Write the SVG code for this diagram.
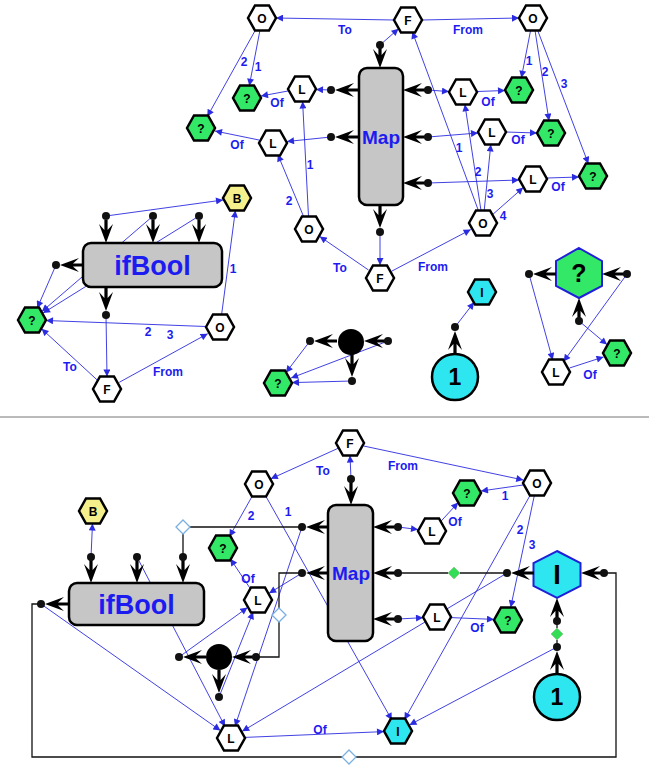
<svg xmlns="http://www.w3.org/2000/svg" xmlns:xlink="http://www.w3.org/1999/xlink" width="649" height="773" viewBox="0 0 649 773">
<style>
.c{stroke:#2b2be0;stroke-width:0.9;fill:none;marker-end:url(#ar)}
.k{stroke:#111;stroke-width:1.3;fill:none}
.lb{font-family:"Liberation Sans",Arial,sans-serif;font-weight:bold;font-size:12px;fill:#1c1cf0;text-anchor:middle}
.ht{font-family:"Liberation Sans",Arial,sans-serif;font-weight:bold;font-size:12px;fill:#000;text-anchor:middle}
.big{font-family:"Liberation Sans",Arial,sans-serif;font-weight:bold;fill:#000;text-anchor:middle}
.w{fill:#fff;stroke:#000;stroke-width:2.5}
.g{fill:#33e866;stroke:#000;stroke-width:2.5}
.y{fill:#f5f08c;stroke:#000;stroke-width:2.5}
.cy{fill:#2de6ef;stroke:#000;stroke-width:2.5}
.box{fill:#c6c6c6;stroke:#000;stroke-width:2.5}
.bt{font-family:"Liberation Sans",Arial,sans-serif;font-weight:bold;fill:#1c1cf0;text-anchor:middle}
.pa{fill:#000}
.dot{fill:#111}
.hd{fill:#fff;stroke:#7ab0e0;stroke-width:1.3}
.gd{fill:#33dd55;stroke:#8fcf8f;stroke-width:1}
</style>
<defs>
<marker id="ar" viewBox="0 0 10 10" refX="10" refY="5" markerWidth="8" markerHeight="7" markerUnits="userSpaceOnUse" orient="auto"><path d="M0,0 L10,5 L0,10 z" fill="#2b2be0"/></marker>
<polygon id="hx" points="-14,0 -7,-12.5 7,-12.5 14,0 7,12.5 -7,12.5"/>
<path id="pa" d="M0,0 L-19,-7 L-13,-1.6 L-23,-1.6 L-23,1.6 L-13,1.6 L-19,7 Z"/>
</defs>
<rect width="649" height="773" fill="#fff"/>
<line x1="0" y1="417" x2="649" y2="417" stroke="#777" stroke-width="1"/>

<g id="connectors">
<line class="c" x1="394" y1="20" x2="276" y2="18"/>
<line class="c" x1="422" y1="20" x2="519" y2="18"/>
<line class="c" x1="260" y1="30" x2="249.3" y2="85.7"/>
<line class="c" x1="256" y1="29" x2="207.3" y2="116.6"/>
<line class="c" x1="288" y1="91" x2="261" y2="96"/>
<line class="c" x1="259" y1="140" x2="215" y2="131"/>
<line class="c" x1="331" y1="90" x2="316" y2="89.5"/>
<line class="c" x1="331" y1="137" x2="287" y2="141.5"/>
<line class="c" x1="380" y1="45" x2="398.5" y2="28.8"/>
<line class="c" x1="380" y1="232" x2="380" y2="265"/>
<line class="c" x1="368.5" y1="270" x2="319.7" y2="236.4"/>
<line class="c" x1="392" y1="271" x2="470.7" y2="229.6"/>
<line class="c" x1="304" y1="217.5" x2="277.8" y2="154.5"/>
<line class="c" x1="308.5" y1="216.5" x2="302.6" y2="101.5"/>
<line class="c" x1="478.7" y1="211.3" x2="412.3" y2="31.7"/>
<line class="c" x1="481" y1="210.6" x2="464.9" y2="104.4"/>
<line class="c" x1="484.2" y1="210.6" x2="490.8" y2="144.4"/>
<line class="c" x1="492.8" y1="214.4" x2="523.2" y2="187.6"/>
<line class="c" x1="428" y1="90" x2="449" y2="91.6"/>
<line class="c" x1="428" y1="137" x2="478" y2="133"/>
<line class="c" x1="428" y1="183" x2="519" y2="180"/>
<line class="c" x1="477" y1="91.5" x2="505" y2="90.5"/>
<line class="c" x1="506" y1="132" x2="537" y2="133"/>
<line class="c" x1="547" y1="178" x2="579" y2="177"/>
<line class="c" x1="530.6" y1="30.3" x2="521.4" y2="77.7"/>
<line class="c" x1="535" y1="30.3" x2="549" y2="120.7"/>
<line class="c" x1="537.4" y1="29.7" x2="588.4" y2="163.8"/>
<line class="c" x1="106" y1="216" x2="223" y2="200"/>
<line class="c" x1="153" y1="216" x2="41.9" y2="311.5"/>
<line class="c" x1="199" y1="216" x2="43" y2="313.1"/>
<line class="c" x1="56" y1="265" x2="37.2" y2="308.1"/>
<line class="c" x1="106" y1="315" x2="107" y2="376.5"/>
<line class="c" x1="97.4" y1="380.2" x2="41.6" y2="328.8"/>
<line class="c" x1="119.3" y1="382.3" x2="207.7" y2="333.7"/>
<line class="c" x1="221.6" y1="314.6" x2="235.4" y2="210.4"/>
<line class="c" x1="206" y1="326.5" x2="46" y2="320.5"/>
<line class="c" x1="310" y1="341" x2="285.9" y2="372.7"/>
<line class="c" x1="388" y1="341" x2="291.1" y2="378"/>
<line class="c" x1="352" y1="381" x2="292" y2="382.6"/>
<line class="c" x1="455" y1="327" x2="474.1" y2="302.3"/>
<line class="c" x1="529" y1="274" x2="552.7" y2="360"/>
<line class="c" x1="627" y1="274" x2="563.6" y2="361.5"/>
<line class="c" x1="579" y1="321" x2="607" y2="344.6"/>
<line class="c" x1="569.5" y1="368" x2="603.5" y2="357"/>
<line class="c" x1="351" y1="479" x2="350" y2="455.5"/>
<line class="c" x1="363.7" y1="446" x2="523.3" y2="480"/>
<line class="c" x1="338.1" y1="448.3" x2="270.8" y2="478.8"/>
<line class="c" x1="252.9" y1="494.9" x2="229.4" y2="536.7"/>
<line class="c" x1="265.1" y1="494.9" x2="391.9" y2="720.1"/>
<line class="c" x1="250.7" y1="589.2" x2="230.3" y2="558.8"/>
<line class="c" x1="398" y1="527" x2="418" y2="529.5"/>
<line class="c" x1="440.8" y1="521.4" x2="458.2" y2="502.6"/>
<line class="c" x1="523" y1="485" x2="481" y2="491"/>
<line class="c" x1="530.9" y1="493.9" x2="404.4" y2="719.7"/>
<line class="c" x1="534.4" y1="495.2" x2="510.7" y2="607.3"/>
<line class="c" x1="398" y1="619" x2="423" y2="617.7"/>
<line class="c" x1="451" y1="617.6" x2="494" y2="619.4"/>
<line class="c" x1="245" y1="737.4" x2="384" y2="731.6"/>
<line class="c" x1="557" y1="647" x2="409.5" y2="724.9"/>
<line class="c" x1="41" y1="604" x2="220.4" y2="730.5"/>
<line class="c" x1="137" y1="557" x2="225" y2="726.5"/>
<line class="c" x1="302" y1="527" x2="235" y2="726.2"/>
<line class="c" x1="507" y1="573" x2="242.2" y2="731.3"/>
<line class="c" x1="179" y1="657" x2="247.5" y2="607.6"/>
<line class="c" x1="219" y1="697" x2="253.2" y2="612.1"/>
<line class="c" x1="302" y1="573" x2="269.1" y2="593.2"/>
<line class="c" x1="91" y1="557" x2="92.5" y2="523.5"/>
<polyline class="k" points="41,604 32,604 32,757 616,757 616,573 604,573"/>
<polyline class="k" points="302,527 183,527 183,557"/>
<polyline class="k" points="302,573 279,573 279,657 256,657"/>
<line class="k" x1="507" y1="573" x2="398" y2="573"/>
<line class="k" x1="557" y1="647" x2="557" y2="621"/>
<polygon class="hd" points="349,750 356,757 349,764 342,757"/>
<polygon class="hd" points="183,520 190,527 183,534 176,527"/>
<polygon class="hd" points="279,608 286,615 279,622 272,615"/>
<polygon class="gd" points="454,567 460,573 454,579 448,573"/>
<polygon class="gd" points="557,628 563,634 557,640 551,634"/>
<text class="lb" x="345" y="34">To</text>
<text class="lb" x="468" y="34">From</text>
<text class="lb" x="258" y="71">1</text>
<text class="lb" x="244" y="66">2</text>
<text class="lb" x="277" y="107">Of</text>
<text class="lb" x="237" y="149">Of</text>
<text class="lb" x="340" y="272">To</text>
<text class="lb" x="433" y="271">From</text>
<text class="lb" x="289" y="205">2</text>
<text class="lb" x="310" y="169">1</text>
<text class="lb" x="459" y="152">1</text>
<text class="lb" x="478" y="176">2</text>
<text class="lb" x="490" y="198">3</text>
<text class="lb" x="503" y="220">4</text>
<text class="lb" x="488" y="106">Of</text>
<text class="lb" x="518" y="144">Of</text>
<text class="lb" x="558" y="191">Of</text>
<text class="lb" x="529" y="65">1</text>
<text class="lb" x="545" y="76">2</text>
<text class="lb" x="564" y="88">3</text>
<text class="lb" x="70" y="371">To</text>
<text class="lb" x="168" y="376">From</text>
<text class="lb" x="233" y="273">1</text>
<text class="lb" x="148" y="336">2</text>
<text class="lb" x="170" y="339">3</text>
<text class="lb" x="590" y="379">Of</text>
<text class="lb" x="403" y="470">From</text>
<text class="lb" x="323" y="475">To</text>
<text class="lb" x="251" y="520">2</text>
<text class="lb" x="288" y="516">1</text>
<text class="lb" x="248" y="583">Of</text>
<text class="lb" x="455" y="526">Of</text>
<text class="lb" x="505" y="500">1</text>
<text class="lb" x="520" y="534">2</text>
<text class="lb" x="532" y="549">3</text>
<text class="lb" x="477" y="632">Of</text>
<text class="lb" x="320" y="734">Of</text>
</g>

<g id="t_O1"><use href="#hx" x="262" y="18" class="w"/><text class="ht" x="262" y="22.5">O</text></g>
<g id="t_F1"><use href="#hx" x="408" y="20" class="w"/><text class="ht" x="408" y="24.5">F</text></g>
<g id="t_O2"><use href="#hx" x="533" y="18" class="w"/><text class="ht" x="533" y="22.5">O</text></g>
<g id="t_G1"><use href="#hx" x="247" y="98" class="g"/><text class="ht" x="247" y="102.5">?</text></g>
<g id="t_G2"><use href="#hx" x="201" y="128" class="g"/><text class="ht" x="201" y="132.5">?</text></g>
<g id="t_L1"><use href="#hx" x="302" y="89" class="w"/><text class="ht" x="302" y="93.5">L</text></g>
<g id="t_L2"><use href="#hx" x="273" y="143" class="w"/><text class="ht" x="273" y="147.5">L</text></g>
<g id="t_L3"><use href="#hx" x="463" y="92" class="w"/><text class="ht" x="463" y="96.5">L</text></g>
<g id="t_G3"><use href="#hx" x="519" y="90" class="g"/><text class="ht" x="519" y="94.5">?</text></g>
<g id="t_L4"><use href="#hx" x="492" y="132" class="w"/><text class="ht" x="492" y="136.5">L</text></g>
<g id="t_G4"><use href="#hx" x="551" y="133" class="g"/><text class="ht" x="551" y="137.5">?</text></g>
<g id="t_L5"><use href="#hx" x="533" y="179" class="w"/><text class="ht" x="533" y="183.5">L</text></g>
<g id="t_G5"><use href="#hx" x="593" y="176" class="g"/><text class="ht" x="593" y="180.5">?</text></g>
<g id="t_O3"><use href="#hx" x="309" y="229" class="w"/><text class="ht" x="309" y="233.5">O</text></g>
<g id="t_O4"><use href="#hx" x="483" y="223" class="w"/><text class="ht" x="483" y="227.5">O</text></g>
<g id="t_F2"><use href="#hx" x="380" y="278" class="w"/><text class="ht" x="380" y="282.5">F</text></g>
<g id="t_map">
<rect class="box" x="359" y="68" width="44" height="137" rx="8"/>
<text class="bt" x="381" y="144" style="font-size:19px">Map</text>
<use href="#pa" class="pa" transform="translate(380,68) rotate(90)"/><circle class="dot" cx="380" cy="45" r="4"/>
<use href="#pa" class="pa" transform="translate(335,90) rotate(180)"/><circle class="dot" cx="331" cy="90" r="4"/>
<use href="#pa" class="pa" transform="translate(335,137) rotate(180)"/><circle class="dot" cx="331" cy="137" r="4"/>
<use href="#pa" class="pa" transform="translate(403,90) rotate(180)"/><circle class="dot" cx="428" cy="90" r="4"/>
<use href="#pa" class="pa" transform="translate(403,137) rotate(180)"/><circle class="dot" cx="428" cy="137" r="4"/>
<use href="#pa" class="pa" transform="translate(403,183) rotate(180)"/><circle class="dot" cx="428" cy="183" r="4"/>
<use href="#pa" class="pa" transform="translate(380,228) rotate(90)"/><circle class="dot" cx="380" cy="232" r="4"/>
</g>
<g id="t_ifbool">
<rect class="box" x="83" y="243" width="139" height="44" rx="8"/>
<text class="bt" x="152.5" y="275" style="font-size:27px">ifBool</text>
<use href="#pa" class="pa" transform="translate(106,243) rotate(90)"/><circle class="dot" cx="106" cy="216" r="4"/>
<use href="#pa" class="pa" transform="translate(153,243) rotate(90)"/><circle class="dot" cx="153" cy="216" r="4"/>
<use href="#pa" class="pa" transform="translate(199,243) rotate(90)"/><circle class="dot" cx="199" cy="216" r="4"/>
<use href="#pa" class="pa" transform="translate(60,265) rotate(180)"/><circle class="dot" cx="56" cy="265" r="4"/>
<use href="#pa" class="pa" transform="translate(106,311) rotate(90)"/><circle class="dot" cx="106" cy="315" r="4"/>
</g>
<g id="t_B"><use href="#hx" x="237" y="198" class="y"/><text class="ht" x="237" y="202.5">B</text></g>
<g id="t_G6"><use href="#hx" x="32" y="320" class="g"/><text class="ht" x="32" y="324.5">?</text></g>
<g id="t_O5"><use href="#hx" x="220" y="327" class="w"/><text class="ht" x="220" y="331.5">O</text></g>
<g id="t_F3"><use href="#hx" x="107" y="389" class="w"/><text class="ht" x="107" y="393.5">F</text></g>
<g id="t_circ">
<circle cx="351" cy="342" r="13" fill="#000"/>
<use href="#pa" class="pa" transform="translate(314,341) rotate(180)"/><circle class="dot" cx="310" cy="341" r="4"/>
<use href="#pa" class="pa" transform="translate(364,341) rotate(180)"/><circle class="dot" cx="388" cy="341" r="4"/>
<use href="#pa" class="pa" transform="translate(352,377) rotate(90)"/><circle class="dot" cx="352" cy="381" r="4"/>
</g>
<g id="t_G7"><use href="#hx" x="278" y="383" class="g"/><text class="ht" x="278" y="387.5">?</text></g>
<g id="t_I"><use href="#hx" x="482" y="292" class="cy"/><text class="ht" x="482" y="296.5">I</text></g>
<g id="t_one">
<circle class="cy" cx="455" cy="377" r="23"/>
<text class="big" x="455" y="385" style="font-size:23px">1</text>
<use href="#pa" class="pa" transform="translate(455,331) rotate(-90)"/><circle class="dot" cx="455" cy="327" r="4"/>
</g>
<g id="t_bigq">
<polygon points="579,248 602,261 602,286 579,298 556,286 556,261" fill="#33e866" stroke="#2020d8" stroke-width="2"/>
<text class="big" x="579" y="282" style="font-size:25px">?</text>
<use href="#pa" class="pa" transform="translate(533,274) rotate(180)"/><circle class="dot" cx="529" cy="274" r="4"/>
<use href="#pa" class="pa" transform="translate(602,274) rotate(180)"/><circle class="dot" cx="627" cy="274" r="4"/>
<use href="#pa" class="pa" transform="translate(579,298) rotate(-90)"/><circle class="dot" cx="579" cy="321" r="4"/>
</g>
<g id="t_L6"><use href="#hx" x="556" y="372" class="w"/><text class="ht" x="556" y="376.5">L</text></g>
<g id="t_G8"><use href="#hx" x="617" y="353" class="g"/><text class="ht" x="617" y="357.5">?</text></g>

<g id="b_F"><use href="#hx" x="350" y="443" class="w"/><text class="ht" x="350" y="447.5">F</text></g>
<g id="b_O1"><use href="#hx" x="259" y="484" class="w"/><text class="ht" x="259" y="488.5">O</text></g>
<g id="b_O2"><use href="#hx" x="537" y="483" class="w"/><text class="ht" x="537" y="487.5">O</text></g>
<g id="b_B"><use href="#hx" x="93" y="511" class="y"/><text class="ht" x="93" y="515.5">B</text></g>
<g id="b_G1"><use href="#hx" x="223" y="548" class="g"/><text class="ht" x="223" y="552.5">?</text></g>
<g id="b_L1"><use href="#hx" x="258" y="600" class="w"/><text class="ht" x="258" y="604.5">L</text></g>
<g id="b_ifbool">
<rect class="box" x="69" y="583" width="135" height="42" rx="8"/>
<text class="bt" x="136.5" y="614" style="font-size:27px">ifBool</text>
<use href="#pa" class="pa" transform="translate(91,583) rotate(90)"/><circle class="dot" cx="91" cy="557" r="4"/>
<use href="#pa" class="pa" transform="translate(137,583) rotate(90)"/><circle class="dot" cx="137" cy="557" r="4"/>
<use href="#pa" class="pa" transform="translate(183,583) rotate(90)"/><circle class="dot" cx="183" cy="557" r="4"/>
<use href="#pa" class="pa" transform="translate(45,604) rotate(180)"/><circle class="dot" cx="41" cy="604" r="4"/>
</g>
<g id="b_map">
<rect class="box" x="328" y="505" width="45" height="136" rx="8"/>
<text class="bt" x="351" y="580" style="font-size:19px">Map</text>
<use href="#pa" class="pa" transform="translate(351,505) rotate(90)"/><circle class="dot" cx="351" cy="479" r="4"/>
<use href="#pa" class="pa" transform="translate(306,527) rotate(180)"/><circle class="dot" cx="302" cy="527" r="4"/>
<use href="#pa" class="pa" transform="translate(306,573) rotate(180)"/><circle class="dot" cx="302" cy="573" r="4"/>
<use href="#pa" class="pa" transform="translate(373,527) rotate(180)"/><circle class="dot" cx="398" cy="527" r="4"/>
<use href="#pa" class="pa" transform="translate(373,573) rotate(180)"/><circle class="dot" cx="398" cy="573" r="4"/>
<use href="#pa" class="pa" transform="translate(373,619) rotate(180)"/><circle class="dot" cx="398" cy="619" r="4"/>
</g>
<g id="b_G2"><use href="#hx" x="467" y="493" class="g"/><text class="ht" x="467" y="497.5">?</text></g>
<g id="b_L2"><use href="#hx" x="432" y="531" class="w"/><text class="ht" x="432" y="535.5">L</text></g>
<g id="b_bigI">
<polygon points="557,551 580.5,563 580.5,586 557,598 533.5,586 533.5,563" fill="#2de6ef" stroke="#2020d8" stroke-width="2"/>
<text class="big" x="557" y="584" style="font-size:27px">I</text>
<use href="#pa" class="pa" transform="translate(511,573) rotate(180)"/><circle class="dot" cx="507" cy="573" r="4"/>
<use href="#pa" class="pa" transform="translate(581,573) rotate(180)"/><circle class="dot" cx="604" cy="573" r="4"/>
<use href="#pa" class="pa" transform="translate(557,598) rotate(-90)"/><circle class="dot" cx="557" cy="621" r="4"/>
</g>
<g id="b_L3"><use href="#hx" x="437" y="617" class="w"/><text class="ht" x="437" y="621.5">L</text></g>
<g id="b_G3"><use href="#hx" x="508" y="620" class="g"/><text class="ht" x="508" y="624.5">?</text></g>
<g id="b_one">
<circle class="cy" cx="557" cy="697" r="23"/>
<text class="big" x="557" y="705" style="font-size:23px">1</text>
<use href="#pa" class="pa" transform="translate(557,651) rotate(-90)"/><circle class="dot" cx="557" cy="647" r="4"/>
</g>
<g id="b_L4"><use href="#hx" x="231" y="738" class="w"/><text class="ht" x="231" y="742.5">L</text></g>
<g id="b_I"><use href="#hx" x="398" y="731" class="cy"/><text class="ht" x="398" y="735.5">I</text></g>
<g id="b_circ">
<circle cx="219" cy="657" r="13" fill="#000"/>
<use href="#pa" class="pa" transform="translate(183,657) rotate(180)"/><circle class="dot" cx="179" cy="657" r="4"/>
<use href="#pa" class="pa" transform="translate(232,657) rotate(180)"/><circle class="dot" cx="256" cy="657" r="4"/>
<use href="#pa" class="pa" transform="translate(219,693) rotate(90)"/><circle class="dot" cx="219" cy="697" r="4"/>
</g>
</svg>
